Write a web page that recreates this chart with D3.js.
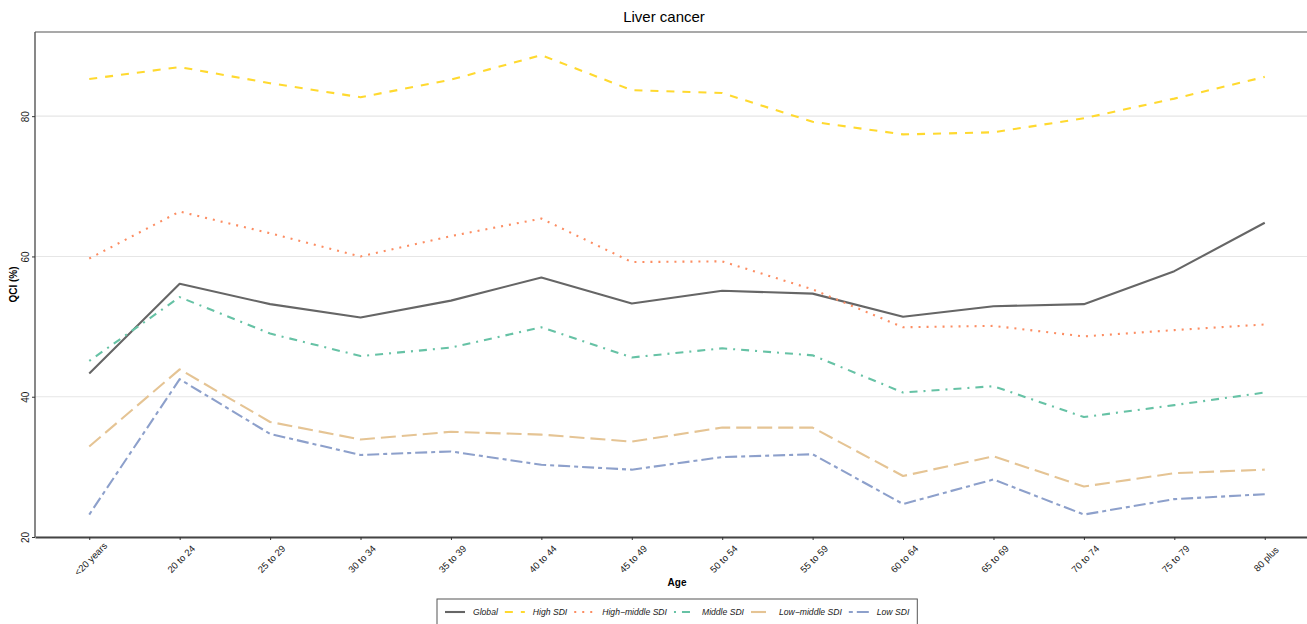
<!DOCTYPE html>
<html>
<head>
<meta charset="utf-8">
<script src="https://cdn.jsdelivr.net/npm/d3@7"></script>
<style>
  html, body { margin: 0; padding: 0; background: #fff; }
  svg { display: block; font-family: "Liberation Sans", Arial, Helvetica, sans-serif; }
</style>
</head>
<body>
<svg id="chart" width="1307" height="624"></svg>
<script>
// ---------------- data ----------------
const ages = ["<20 years", "20 to 24", "25 to 29", "30 to 34", "35 to 39", "40 to 44", "45 to 49",
              "50 to 54", "55 to 59", "60 to 64", "65 to 69", "70 to 74", "75 to 79", "80 plus"];
const seriesNames = ["Global", "High SDI", "High\u2212middle SDI", "Middle SDI", "Low\u2212middle SDI", "Low SDI"];
const globalVals     = [43.3, 56.1, 53.2, 51.3, 53.7, 57.0, 53.3, 55.1, 54.7, 51.4, 52.9, 53.2, 57.9, 64.8];
const highVals       = [85.3, 87.0, 84.7, 82.7, 85.2, 88.7, 83.7, 83.3, 79.2, 77.4, 77.7, 79.7, 82.5, 85.6];
const highMiddleVals = [59.7, 66.4, 63.3, 60.0, 62.9, 65.4, 59.2, 59.3, 55.3, 49.9, 50.1, 48.6, 49.5, 50.3];
const middleVals     = [45.1, 54.2, 49.0, 45.8, 47.0, 49.9, 45.6, 46.9, 45.9, 40.6, 41.5, 37.1, 38.8, 40.6];
const lowMiddleVals  = [32.9, 43.9, 36.4, 33.9, 35.0, 34.6, 33.6, 35.6, 35.6, 28.7, 31.5, 27.2, 29.1, 29.6];
const lowVals        = [23.2, 42.5, 34.7, 31.7, 32.2, 30.3, 29.6, 31.4, 31.8, 24.7, 28.2, 23.2, 25.4, 26.1];
const yTicks = [20, 40, 60, 80];

// ---------------- styles ----------------
const colors = ["#666666", "#FFD92F", "#FC8D62", "#66C2A5", "#E5C494", "#8DA0CB"];
const dashes = ["none", "8,8", "2,6", "2,6,8,6", "15,6", "4,4,12,4"];

const allVals = [globalVals, highVals, highMiddleVals, middleVals, lowMiddleVals, lowVals];
const series = seriesNames.map((name, i) => ({
  name, color: colors[i], dash: dashes[i],
  values: ages.map((a, j) => ({ age: a, v: allVals[i][j] }))
}));

const svg = d3.select("#chart");
const pL = 35, pR = 1319, pT = 32, pB = 537;

const x = d3.scalePoint().domain(ages).range([pL, pR]).padding(0.6);
const y = d3.scaleLinear().domain([20, 92]).range([pB, pT]);

// grid
svg.append("g").selectAll("line").data(yTicks).join("line")
  .attr("x1", pL).attr("x2", pR)
  .attr("y1", d => y(d)).attr("y2", d => y(d))
  .attr("stroke", "#e6e6e6").attr("stroke-width", 1.1);

// lines
const line = d3.line().x(d => x(d.age)).y(d => y(d.v));
svg.append("g").selectAll("path").data(series).join("path")
  .attr("d", d => line(d.values))
  .attr("fill", "none")
  .attr("stroke", d => d.color)
  .attr("stroke-width", 2.1)
  .attr("stroke-dasharray", d => d.dash)
  .attr("stroke-linejoin", "round");

// panel border (top / left) and axis lines
svg.append("line").attr("x1", pL).attr("x2", pR).attr("y1", pT).attr("y2", pT)
  .attr("stroke", "#555").attr("stroke-width", 1.1);
svg.append("line").attr("x1", pL).attr("x2", pL).attr("y1", pT).attr("y2", pB)
  .attr("stroke", "#555").attr("stroke-width", 1.4);

// x axis
const xAxis = svg.append("g").attr("transform", `translate(0,${pB})`)
  .call(d3.axisBottom(x).tickSize(3).tickSizeOuter(0));
xAxis.select(".domain").attr("stroke", "#444").attr("stroke-width", 2);
xAxis.selectAll(".tick line").attr("stroke", "#333");
xAxis.selectAll(".tick text")
  .attr("font-family", "Liberation Sans, Arial, sans-serif")
  .attr("font-size", 9.5).attr("fill", "#1a1a1a")
  .attr("text-anchor", "middle")
  .attr("transform", "translate(1,22) rotate(-45)")
  .attr("y", 0).attr("dy", "0.35em");

// y axis
const yAxis = svg.append("g").attr("transform", `translate(${pL},0)`)
  .call(d3.axisLeft(y).tickValues(yTicks).tickSize(3).tickSizeOuter(0));
yAxis.select(".domain").attr("stroke", "none");
yAxis.selectAll(".tick line").attr("stroke", "#333");
yAxis.selectAll(".tick text")
  .attr("font-family", "Liberation Sans, Arial, sans-serif")
  .attr("font-size", 10).attr("fill", "#1a1a1a")
  .attr("x", 0).attr("dy", 0)
  .attr("text-anchor", "middle")
  .attr("transform", "translate(-6,0) rotate(-90)");

// titles
svg.append("text").attr("x", 664).attr("y", 22).attr("text-anchor", "middle")
  .attr("font-size", 15).attr("fill", "#000").text("Liver cancer");
svg.append("text").attr("x", (pL + pR) / 2).attr("y", 586).attr("text-anchor", "middle")
  .attr("font-size", 10).attr("font-weight", "bold").attr("fill", "#000").text("Age");
svg.append("text").attr("transform", `translate(17,${(pT + pB) / 2}) rotate(-90)`)
  .attr("text-anchor", "middle").attr("font-size", 10).attr("font-weight", "bold")
  .attr("fill", "#000").text("QCI (%)");

// legend
const lg = svg.append("g");
const box = lg.append("rect").attr("fill", "#fff").attr("stroke", "#555").attr("stroke-width", 1);
let cx = 445;
const ly = 615;
series.forEach((s, i) => {
  const g = lg.append("g");
  g.append("line").attr("x1", cx).attr("x2", cx + 20).attr("y1", ly - 3).attr("y2", ly - 3)
    .attr("stroke", s.color).attr("stroke-width", 2.1).attr("stroke-dasharray", s.dash);
  const t = g.append("text").attr("x", cx + 28).attr("y", ly).attr("font-size", 8.6)
    .attr("font-style", "italic").attr("fill", "#1a1a1a").text(s.name);
  const w = t.node().getComputedTextLength();
  cx = cx + 28 + w + 7;
});
box.attr("x", 437).attr("y", 599).attr("width", cx - 437 + 1).attr("height", 40);
</script>
</body>
</html>
